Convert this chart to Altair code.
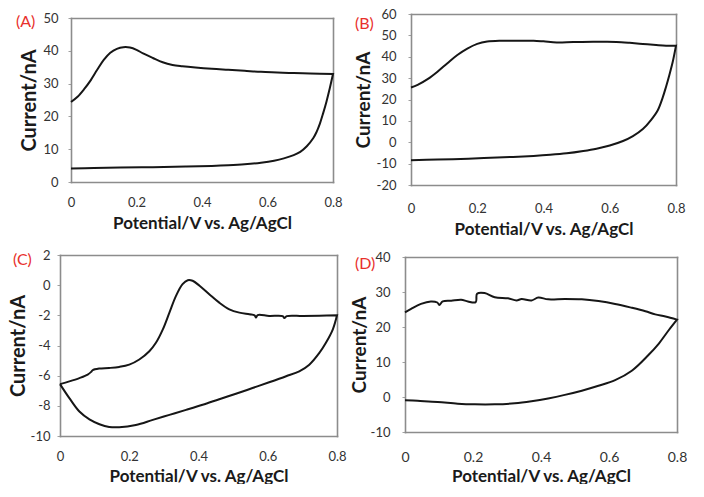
import altair as alt
import pandas as pd

# ---------------- data ----------------
# Panel A
A_V_FWD = [0, 0.02, 0.04, 0.06, 0.08, 0.10, 0.12, 0.14, 0.16, 0.18, 0.20, 0.22, 0.25, 0.28, 0.31,
           0.34, 0.38, 0.43, 0.48, 0.53, 0.58, 0.63, 0.68, 0.73, 0.8]
A_I_FWD = [24.4, 26.0, 28.3, 31.0, 34.2, 37.2, 39.4, 40.6, 41.1, 41.0, 40.3, 39.2, 37.8, 36.5, 35.7,
           35.3, 34.9, 34.5, 34.2, 33.9, 33.6, 33.4, 33.2, 33.1, 32.9]
A_V_REV = [0.8, 0.79, 0.78, 0.77, 0.76, 0.75, 0.74, 0.72, 0.70, 0.68, 0.65, 0.62, 0.58, 0.53, 0.48,
           0.43, 0.35, 0.25, 0.15, 0.07, 0]
A_I_REV = [32.9, 28.5, 24.5, 21.0, 17.8, 15.3, 13.4, 10.9, 9.2, 8.2, 7.2, 6.5, 5.9, 5.4, 5.1,
           4.9, 4.7, 4.5, 4.4, 4.3, 4.1]

# Panel B
B_V_FWD = [0, 0.02, 0.05, 0.08, 0.11, 0.14, 0.17, 0.20, 0.23, 0.27, 0.32, 0.37, 0.40, 0.44, 0.49,
           0.55, 0.59, 0.62, 0.66, 0.70, 0.74, 0.77, 0.8]
B_I_FWD = [25.6, 26.8, 29.5, 33.0, 37.0, 40.8, 43.8, 46.0, 47.1, 47.5, 47.5, 47.5, 47.2, 46.7, 46.9,
           47.0, 47.0, 46.9, 46.5, 46.0, 45.5, 45.2, 45.2]
B_V_REV = [0.8, 0.79, 0.78, 0.77, 0.76, 0.745, 0.725, 0.70, 0.67, 0.64, 0.60, 0.56, 0.52, 0.47, 0.42,
           0.37, 0.30, 0.22, 0.15, 0.08, 0]
B_I_REV = [45.2, 37.5, 31.5, 26.0, 21.0, 15.0, 10.5, 6.2, 2.9, 0.6, -1.5, -3.0, -4.1, -5.2, -5.9,
           -6.4, -6.9, -7.4, -7.8, -8.1, -8.4]

# Panel C
C_V_FWD = [0, 0.027, 0.056, 0.08, 0.09, 0.094, 0.113, 0.142, 0.171, 0.20, 0.229, 0.258, 0.277, 0.297,
           0.316, 0.335, 0.354, 0.369, 0.383, 0.403, 0.431, 0.46, 0.489, 0.518, 0.547, 0.562, 0.566,
           0.571, 0.604, 0.643, 0.648, 0.655, 0.701, 0.749, 0.8]
C_I_FWD = [-6.56, -6.38, -6.16, -5.93, -5.75, -5.64, -5.53, -5.49, -5.42, -5.27, -4.93, -4.38, -3.82,
           -2.93, -1.82, -0.71, 0.07, 0.33, 0.29, -0.04, -0.6, -1.16, -1.6, -1.82, -1.93, -2.0, -2.15,
           -1.98, -2.04, -2.05, -2.18, -2.05, -2.04, -2.02, -2.0]
C_V_REV = [0.8, 0.788, 0.768, 0.749, 0.72, 0.691, 0.653, 0.604, 0.556, 0.508, 0.46, 0.412, 0.364,
           0.316, 0.268, 0.219, 0.171, 0.142, 0.114, 0.085, 0.056, 0.027, 0]
C_I_REV = [-2.0, -2.93, -3.82, -4.49, -5.27, -5.71, -6.04, -6.44, -6.82, -7.2, -7.56, -7.93, -8.27,
           -8.6, -8.93, -9.27, -9.42, -9.40, -9.22, -8.9, -8.38, -7.49, -6.56]

# Panel D
D_V_FWD = [0, 0.018, 0.047, 0.076, 0.095, 0.101, 0.111, 0.136, 0.165, 0.185, 0.208, 0.212, 0.234,
           0.264, 0.303, 0.328, 0.343, 0.372, 0.392, 0.421, 0.47, 0.52, 0.569, 0.618, 0.667, 0.707,
           0.736, 0.766, 0.8]
D_I_FWD = [24.2, 25.2, 26.6, 27.3, 27.0, 26.3, 27.3, 27.5, 27.8, 27.3, 27.1, 29.5, 29.7,
           28.5, 28.2, 27.6, 28.0, 27.6, 28.4, 27.9, 28.0, 27.9, 27.4, 26.6, 25.5, 24.5,
           23.6, 23.0, 22.1]
D_V_REV = [0.8, 0.775, 0.746, 0.716, 0.667, 0.618, 0.569, 0.52, 0.47, 0.421, 0.372, 0.323, 0.264,
           0.205, 0.155, 0.096, 0.037, 0]
D_I_REV = [22.1, 19.0, 15.2, 12.0, 7.5, 4.8, 3.2, 1.8, 0.6, -0.4, -1.2, -1.8, -2.1,
           -2.1, -1.9, -1.4, -1.1, -0.9]

X_TICKS = [0, 0.2, 0.4, 0.6, 0.8]
X_TITLE = "Potential/V vs. Ag/AgCl"
Y_TITLE = "Current/nA"
LABELS = ["(A)", "(B)", "(C)", "(D)"]

FONT = "Lato"
RED = "#e8302c"
FRAME = "#8c8c8c"
INK = "#161616"


def panel(vf, ifw, vr, irv, ydom, ystep, label, w, h, xr, yr, lab_xy,
          ypad, ytpad, xpad, xtpad, xlab_size=13, ylab_size=13, ytitle_size=19):
    v = list(vf) + list(vr)
    cur = list(ifw) + list(irv)
    df = pd.DataFrame({"V": v, "I": cur, "k": list(range(len(v)))})
    yvals = list(range(ydom[0], ydom[1] + 1, ystep))
    xs = alt.Scale(domain=[0, 0.8], nice=False, zero=False, range=list(xr))
    ys = alt.Scale(domain=list(ydom), nice=False, zero=False, range=list(yr))
    common = dict(grid=False, domain=True, domainColor=FRAME, domainWidth=1.6,
                  domainCap="square", labelFont=FONT, titleFont=FONT, labelFlush=False,
                  labelColor="#333333", titleColor="#1a1a1a", titleFontWeight="bold")
    x_bottom = alt.Axis(values=X_TICKS, title=X_TITLE, ticks=False, labelPadding=xpad,
                        titlePadding=xtpad, labelFontSize=xlab_size, titleFontSize=17,
                        labelExpr="datum.value == 0 ? '0' : format(datum.value, '.1f')",
                        **common)
    y_left_kw = dict(values=yvals, title=Y_TITLE, ticks=True, tickSize=3, tickColor="#a0a0a0",
                     labelPadding=ypad, titlePadding=ytpad, labelFontSize=ylab_size,
                     titleFontSize=ytitle_size, labelExpr="'' + datum.value", **common)
    if xr[0] != 0:
        y_left_kw["offset"] = -xr[0]
    y_left = alt.Axis(**y_left_kw)
    x_top_kw = dict(orient="top", labels=False, ticks=False, title=None, grid=False,
                    domainColor=FRAME, domainWidth=1.6, domainCap="square")
    if yr[1] != 0:
        x_top_kw["offset"] = -yr[1]
    x_top = alt.Axis(**x_top_kw)
    y_right = alt.Axis(orient="right", labels=False, ticks=False, title=None, grid=False,
                       domainColor=FRAME, domainWidth=1.6, domainCap="square")

    line = alt.Chart(df).mark_line(color=INK, strokeWidth=2, interpolate="catmull-rom").encode(
        x=alt.X("V:Q", scale=xs, axis=x_bottom),
        y=alt.Y("I:Q", scale=ys, axis=y_left),
        order=alt.Order("k:Q"))
    frame = alt.Chart(df).mark_line(color=INK, strokeWidth=2, opacity=0).encode(
        x=alt.X("V:Q", scale=xs, axis=x_top),
        y=alt.Y("I:Q", scale=ys, axis=y_right),
        order=alt.Order("k:Q"))
    lab = alt.Chart(pd.DataFrame({"t": [label]})).mark_text(
        align="left", baseline="top", font=FONT, fontSize=16, color=RED).encode(
        x=alt.value(lab_xy[0]), y=alt.value(lab_xy[1]), text="t:N")
    return alt.layer(line, frame, lab).resolve_axis(
        x="independent", y="independent").properties(width=w, height=h)


# column origins: 57 / 405 px, row origins: 13 / 256 px (reference pixels)
pA = panel(A_V_FWD, A_I_FWD, A_V_REV, A_I_REV, (0, 50), 10, LABELS[0], 273, 168,
           (11, 273), (168, 4), (-44, 0), 10, 3, 14, 6, ytitle_size=20)
pB = panel(B_V_FWD, B_I_FWD, B_V_REV, B_I_REV, (-20, 60), 10, LABELS[1], 270, 171,
           (5, 270), (171, 0), (-51, 2), 12, 3, 17, 6)
pC = panel(C_V_FWD, C_I_FWD, C_V_REV, C_I_REV, (-10, 2), 2, LABELS[2], 277, 181,
           (0, 277), (181, 0), (-47, -3), 7, 2, 14, 5, ytitle_size=20)
pD = panel(D_V_FWD, D_I_FWD, D_V_REV, D_I_REV, (-10, 40), 10, LABELS[3], 272, 177,
           (0, 272), (177, 2), (-50, 1), 12, 1, 18, 4, xlab_size=14)

row1 = alt.hconcat(pA, pB, spacing=11)
row2 = alt.hconcat(pC, pD, spacing=3)

chart = alt.vconcat(row1, row2, spacing=12).properties(
    padding={"left": 0, "top": 0, "right": 0, "bottom": 0}
).configure_view(stroke=None)

chart.save("out.html", embed_options={"renderer": "svg", "actions": False})
